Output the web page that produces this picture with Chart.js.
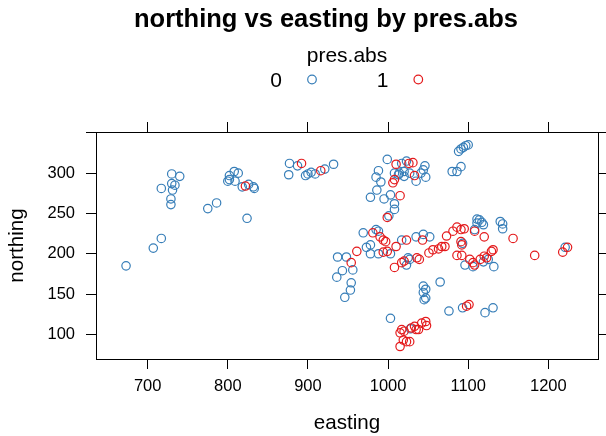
<!DOCTYPE html>
<html>
<head>
<meta charset="utf-8">
<title>northing vs easting by pres.abs</title>
<script src="https://cdn.jsdelivr.net/npm/chart.js@4.4.1/dist/chart.umd.min.js"></script>
<style>
  html, body { margin: 0; padding: 0; background: #fff; }
  #wrap { width: 606px; height: 436px; }
</style>
</head>
<body>
<div id="wrap"><canvas id="chart" width="606" height="436"></canvas></div>
<script>
// pres.abs = 0
const eastingAbsent = [
    730, 740, 717, 730, 734, 731, 729, 729, 775, 786, 824, 717, 707, 673,
    802, 808, 813, 800, 802, 809, 818, 826, 832, 833,
    877, 876, 887, 897, 900, 904, 909, 921, 932,
    937, 948, 943, 936, 956, 954, 953, 946,
    999, 988, 985, 991, 986, 978, 995, 1003, 1008, 1008, 1001,
    1008, 1014, 1017, 1023, 1020, 1027, 1035, 1041, 1046, 1044, 1047, 1013, 1020,
    1088, 1091, 1094, 1097, 1100, 1080, 1086, 1091,
    969, 973, 978, 978, 985, 988, 988, 1003, 1017, 1023, 1027, 1035, 1044, 1052, 1025,
    1096, 1125, 1132, 1119, 1106, 1108, 1111, 1114, 1111, 1117, 1119, 1140, 1143, 1143, 1221, 1093,
    1065, 1044, 1047, 1044, 1047, 1045, 1003, 1076, 1093, 1121, 1131, 1028
];
const northingAbsent = [
    299, 296, 281, 287, 285, 279, 268, 261, 256, 263, 244, 219, 207, 185,
    297, 302, 300, 290, 292, 290, 283, 286, 283, 281,
    312, 298, 309, 297, 299, 301, 299, 305, 311,
    196, 196, 179, 171, 180, 164, 155, 146,
    317, 303, 295, 289, 279, 270, 268, 273, 262, 255, 247,
    300, 300, 312, 315, 302, 300, 290, 300, 309, 304, 295, 298, 296,
    327, 330, 332, 334, 335, 302, 302, 308,
    226, 208, 211, 200, 230, 228, 200, 200, 217, 186, 193, 221, 224, 221, 195,
    186, 193, 184, 190, 184, 230, 243, 242, 238, 239, 236, 240, 237, 231, 208, 213,
    165, 160, 156, 152, 145, 143, 120, 129, 133, 127, 133, 107
];

// pres.abs = 1
const eastingPresent = [
    822, 892, 916, 961, 954,
    1010, 1026, 1031, 1033, 1006, 1008, 1015, 999,
    981, 990, 994, 997, 994, 999, 1008, 1010, 1023, 1017, 1020, 1036, 1039, 1043,
    1051, 1056, 1063, 1067, 1071, 1073, 1081, 1086, 1091, 1095, 1091, 1092, 1086, 1092,
    1102, 1106, 1108, 1115, 1120, 1123, 1129, 1131, 1108, 1120, 1156, 1183, 1218, 1224,
    1098, 1101,
    1017, 1015, 1029, 1033, 1038, 1042, 1047, 1048, 1019, 1023, 1027, 1015, 1020, 1035
];
const northingPresent = [
    284, 312, 303, 203, 189,
    311, 312, 313, 297, 288, 292, 272, 245,
    226, 221, 217, 215, 202, 203, 183, 209, 217, 189, 191, 195, 193, 217,
    201, 205, 206, 209, 209, 222, 228, 233, 230, 231, 215, 211, 198, 198,
    193, 189, 186, 193, 197, 195, 203, 205, 228, 221, 219, 198, 202, 208,
    135, 137,
    106, 102, 108, 110, 106, 114, 116, 111, 93, 91, 91, 85, 104, 106
];

const groups = ['0', '1'];
const xTicks = [700, 800, 900, 1000, 1100, 1200];
const xTickLabels = ['700', '800', '900', '1000', '1100', '1200'];
const yTicks = [100, 150, 200, 250, 300, 350];
const yTickLabels = ['100', '150', '200', '250', '300', ''];

const blue = '#377EB8';
const red = '#E41A1C';
const family = "'Liberation Sans', Arial, Helvetica, sans-serif";

function toPoints(xs, ys) {
    return xs.map((x, i) => ({ x: x, y: ys[i] }));
}

const frame = {
    grid: { drawOnChartArea: false, drawTicks: true, tickLength: 10, color: '#000', lineWidth: 1 },
    border: { display: true, color: '#000', width: 1 }
};

// title and key, drawn in lattice style (label first, then symbol)
const keyPlugin = {
    id: 'latticeKey',
    afterDraw(chart) {
        const ctx = chart.ctx;
        ctx.save();
        ctx.fillStyle = '#000';
        ctx.textAlign = 'center';
        ctx.textBaseline = 'alphabetic';
        ctx.font = `bold 25.5px ${family}`;
        ctx.fillText('northing vs easting by pres.abs', 326, 27);
        ctx.font = `21px ${family}`;
        ctx.fillText('pres.abs', 347, 62);
        const items = [
            { label: groups[0], tx: 276, px: 312, color: blue },
            { label: groups[1], tx: 382.5, px: 418.3, color: red }
        ];
        items.forEach(it => {
            ctx.fillStyle = '#000';
            ctx.fillText(it.label, it.tx, 87);
            ctx.beginPath();
            ctx.arc(it.px, 79.5, 4.3, 0, Math.PI * 2);
            ctx.strokeStyle = it.color;
            ctx.lineWidth = 1.2;
            ctx.stroke();
        });
        ctx.restore();
    }
};

new Chart(document.getElementById('chart'), {
    type: 'scatter',
    data: {
        datasets: [
            {
                label: groups[0],
                data: toPoints(eastingAbsent, northingAbsent),
                borderColor: blue,
                backgroundColor: 'rgba(0,0,0,0)',
                pointRadius: 4.2,
                borderWidth: 1.2,
                order: 2
            },
            {
                label: groups[1],
                data: toPoints(eastingPresent, northingPresent),
                borderColor: red,
                backgroundColor: 'rgba(0,0,0,0)',
                pointRadius: 4.2,
                borderWidth: 1.2,
                order: 1
            }
        ]
    },
    options: {
        responsive: false,
        animation: false,
        devicePixelRatio: 1,
        layout: { padding: { top: 122, left: 0, right: 0, bottom: 0 } },
        plugins: {
            legend: { display: false },
            tooltip: { enabled: false },
            title: { display: false }
        },
        scales: {
            x: {
                type: 'linear',
                position: 'bottom',
                min: 635.5,
                max: 1262,
                afterBuildTicks: s => { s.ticks = xTicks.map(v => ({ value: v })); },
                afterFit: s => { s.height = 77; },
                ...frame,
                ticks: {
                    color: '#000',
                    font: { family: family, size: 16.5 },
                    padding: 8,
                    maxRotation: 0,
                    autoSkip: false,
                    callback: v => xTickLabels[xTicks.indexOf(v)]
                },
                title: {
                    display: true,
                    text: 'easting',
                    color: '#000',
                    font: { family: family, size: 20.6 },
                    padding: 0
                }
            },
            x2: {
                type: 'linear',
                position: 'top',
                min: 635.5,
                max: 1262,
                afterBuildTicks: s => { s.ticks = xTicks.map(v => ({ value: v })); },
                afterFit: s => { s.height = 10; },
                ...frame,
                ticks: { display: false }
            },
            y: {
                type: 'linear',
                position: 'left',
                min: 69.5,
                max: 351,
                afterBuildTicks: s => { s.ticks = yTicks.map(v => ({ value: v })); },
                afterFit: s => { s.width = 96; },
                ...frame,
                ticks: {
                    color: '#000',
                    font: { family: family, size: 16.5 },
                    padding: 11,
                    callback: v => yTickLabels[yTicks.indexOf(v)]
                },
                title: {
                    display: true,
                    text: 'northing',
                    color: '#000',
                    font: { family: family, size: 20.6 },
                    padding: { top: 4.5, bottom: 0 }
                }
            },
            y2: {
                type: 'linear',
                position: 'right',
                min: 69.5,
                max: 351,
                afterBuildTicks: s => { s.ticks = yTicks.map(v => ({ value: v })); },
                afterFit: s => { s.width = 8; },
                ...frame,
                ticks: { display: false }
            }
        }
    },
    plugins: [keyPlugin]
});
</script>
</body>
</html>
